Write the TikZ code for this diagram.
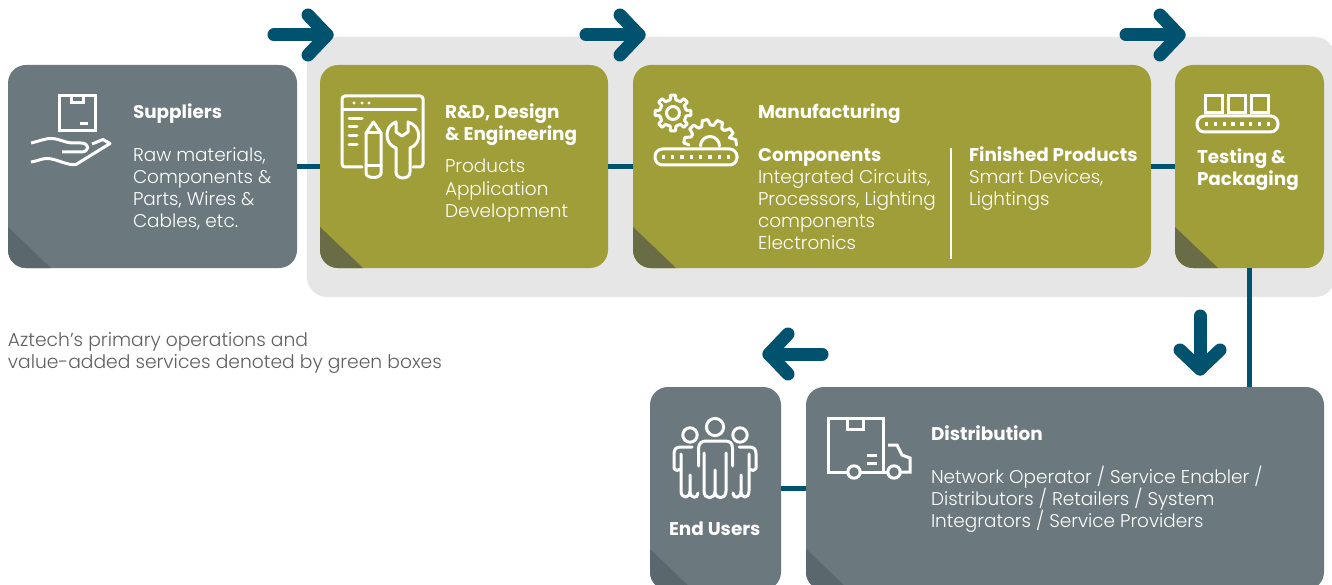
\documentclass[tikz,border=0pt]{standalone}
\usepackage{fontspec}
\setmainfont{Poppins}
\newfontfamily\plight{Poppins Light}
\newfontfamily\pbold{Poppins Bold}
\usetikzlibrary{calc}
\definecolor{slate}{HTML}{6B787E}
\definecolor{slatedark}{HTML}{5A676C}
\definecolor{olive}{HTML}{A09E38}
\definecolor{olivedark}{HTML}{696C45}
\definecolor{bgrey}{HTML}{E6E6E6}
\definecolor{teal2}{HTML}{00526E}
\definecolor{notegrey}{HTML}{5F5F5F}
\tikzset{
  x=1pt,y=-1pt,
  panelbox/.style={rectangle,rounded corners=18pt,inner sep=0pt,outer sep=0pt,draw=none},
  slatebox/.style={panelbox,fill=slate,foldfill=slatedark},
  olivebox/.style={panelbox,fill=olive,foldfill=olivedark},
  foldfill/.style={path picture={\fill[#1,sharp corners]
     ([yshift=41pt]path picture bounding box.south west) --
     ([xshift=43pt]path picture bounding box.south west) --
     (path picture bounding box.south west) -- cycle;}},
  link/.style={draw=teal2,line width=5pt},
  flowarrow/.style={draw=teal2,line width=13pt,line cap=round,line join=round},
  icon/.style={draw=white,line width=3pt,line join=round,line cap=round},
  head/.style={anchor=base west,inner sep=0pt,outer sep=0pt,text=white,font=\pbold\fontsize{18.4}{22}\selectfont,align=left,yshift=-1pt},
  body/.style={anchor=base west,inner sep=0pt,outer sep=0pt,text=white,font=\plight\fontsize{18.45}{22}\selectfont,align=left,yshift=-1pt},
  note/.style={body,text=notegrey,font=\plight\fontsize{18.7}{22}\selectfont},
}
\newcommand{\conveyor}[4]{%
  \draw[icon,rounded corners=7.5pt] (#1,#2) rectangle (#3,#2+16);
  \foreach \k in {0,...,7}{\fill[white] ({#1+#4+\k*(#3-#1-2*#4)/7-1.6},#2+6.4) rectangle +(3.2,3.2);}
}
\begin{document}
\begin{tikzpicture}
\useasboundingbox[clip] (0,0) rectangle (1332,585);
\fill[white] (0,0) rectangle (1332,585);
% grey band
\node[rectangle,rounded corners=20pt,fill=bgrey,inner sep=0pt,minimum width=1028pt,minimum height=260pt] (band) at (821,167) {};
% boxes
\node[slatebox,minimum width=289pt,minimum height=203pt] (sup) at (152.5,166.5) {};
\node[olivebox,minimum width=288pt,minimum height=203pt] (rd) at (464,166.5) {};
\node[olivebox,minimum width=518pt,minimum height=203pt] (mfg) at (892,166.5) {};
\node[olivebox,minimum width=149pt,minimum height=203pt] (test) at (1249.5,166.5) {};
\node[slatebox,minimum width=131pt,minimum height=203pt] (users) at (715.5,488.5) {};
\node[slatebox,minimum width=518pt,minimum height=203pt] (dist) at (1065,488.5) {};
% connectors
\draw[link] (sup.east) -- (rd.west);
\draw[link] (rd.east) -- (mfg.west);
\draw[link] (mfg.east) -- (test.west);
\draw[link] (test.south) -- (test.south |- dist.north);
\draw[link] (dist.west) -- (users.east);
% flow arrows
\foreach \n/\xa in {a/274,b/586,c/1126}{
  \coordinate (\n s) at (\xa,35);
  \coordinate (\n t) at (\xa+53,35);
  \draw[flowarrow] (\n s) -- (\n t);
  \draw[flowarrow] ($(\n t)+(-19,-20)$) -- (\n t) -- ($(\n t)+(-19,20)$);
}
\coordinate (ds) at (1200,316); \coordinate (dt) at (1200,369);
\draw[flowarrow] (ds) -- (dt);
\draw[flowarrow] ($(dt)+(-20,-19)$) -- (dt) -- ($(dt)+(20,-19)$);
\coordinate (ls) at (822,354); \coordinate (lt) at (769,354);
\draw[flowarrow] (ls) -- (lt);
\draw[flowarrow] ($(lt)+(19,-20)$) -- (lt) -- ($(lt)+(19,20)$);
% divider
\draw[white,line width=2.6pt] (951,148) -- (951,259);
% texts
\node[head] (t1) at (133,118) {Suppliers};
\node[body] (t2) at (133,161) {Raw materials,};
\node[body] (t3) at (133,183) {Components \&};
\node[body] (t4) at (133,205) {Parts, Wires \&};
\node[body] (t5) at (133,227) {Cables, etc.};
\node[head] (t6) at (445,118) {R\&D, Design};
\node[head] (t7) at (445,140) {\& Engineering};
\node[body] (t8) at (445,172) {Products};
\node[body] (t9) at (445,195) {Application};
\node[body] (t10) at (445,217) {Development};
\node[head] (t11) at (758,118) {Manufacturing};
\node[head] (t12) at (758,161) {Components};
\node[body] (t13) at (758,183) {Integrated Circuits,};
\node[body] (t14) at (758,205) {Processors, Lighting};
\node[body] (t15) at (758,227) {components};
\node[body] (t16) at (758,249) {Electronics};
\node[head] (t17) at (969,161) {Finished Products};
\node[body] (t18) at (969,183) {Smart Devices,};
\node[body] (t19) at (969,205) {Lightings};
\node[head] (t20) at (1197,163) {Testing \&};
\node[head] (t21) at (1197,185) {Packaging};
\node[note] (t22) at (8,345) {Aztech’s primary operations and};
\node[note] (t23) at (8,367) {value-added services denoted by green boxes};
\node[head] (t24) at (669,534) {End Users};
\node[head] (t25) at (931,439) {Distribution};
\node[body] (t26) at (931,482) {Network Operator / Service Enabler /};
\node[body] (t27) at (931,504) {Distributors / Retailers / System};
\node[body] (t28) at (931,526) {Integrators / Service Providers};
% icon: hand + parcel
\draw[icon,line cap=butt,line join=miter] (59,96) rectangle (95,131);
\draw[icon,line cap=butt,line join=miter] (71,96) -- (71,103) -- (83,103) -- (83,96);
\draw[icon,line cap=butt] (80,123.5) -- (88,123.5);
\draw[icon,line cap=butt] (31,143) .. controls (40,141) and (46,138) .. (52,138.5) .. controls (60,139) and (66,143) .. (72,143) -- (81,143) .. controls (90,143) and (90,152) .. (81,152) -- (62,152);
\draw[icon,line cap=butt] (31,162) .. controls (38,161) and (43,158) .. (48,158.5) .. controls (57,159) and (68,166) .. (76,164.5) -- (110,143.5) -- (103,139.5) -- (92,144);
% icon: window, pencil, wrench
\draw[icon,rounded corners=3pt] (362,167) -- (342,167) -- (342,96) -- (423,96) -- (423,167) -- (413,167);
\draw[icon] (343,110) -- (416,110);
\foreach \px in {354,362,369}{\fill[white] (\px,103) circle (1.6);}
\draw[icon] (349,118.5) -- (362,118.5) (349,127) -- (357,127) (349,136) -- (357,136) (349,145) -- (357,145);
\draw[icon] (366,133) -- (373.5,122) -- (381,133) -- (381,173) .. controls (381,179) and (366,179) .. (366,173) -- cycle;
\draw[icon] (366,133) -- (381,133) (366,166) -- (381,166);
\draw[icon] (396,122) -- (396,132) -- (402,136) -- (408,132) -- (408,122) .. controls (422,126) and (422,144) .. (410,148) -- (410,172) .. controls (410,180) and (396,180) .. (396,172) -- (396,148) .. controls (384,144) and (384,126) .. (396,122) -- cycle;
% icon: gears + conveyor
\draw[icon] (673,113) circle (6.5);
\draw[icon] \foreach \a [count=\i from 0] in {0,45,...,315}{
  \ifnum\i=0 ($(673,113)+(\a-12:13.5)$) \else -- ($(673,113)+(\a-12:13.5)$) \fi
  -- ($(673,113)+(\a-8:18)$) -- ($(673,113)+(\a+8:18)$) -- ($(673,113)+(\a+12:13.5)$)} -- cycle;
\draw[icon] ($(710,146)+(183:21)$) -- ($(710,146)+(187:26.5)$) -- ($(710,146)+(199:26.5)$) -- ($(710,146)+(205:21)$)
  -- ($(710,146)+(214:21)$) -- ($(710,146)+(220:26.5)$) -- ($(710,146)+(232:26.5)$) -- ($(710,146)+(238:21)$)
  -- ($(710,146)+(247:21)$) -- ($(710,146)+(253:26.5)$) -- ($(710,146)+(265:26.5)$) -- ($(710,146)+(271:21)$)
  -- ($(710,146)+(280:21)$) -- ($(710,146)+(286:26.5)$) -- ($(710,146)+(298:26.5)$) -- ($(710,146)+(304:21)$)
  -- ($(710,146)+(313:21)$) -- ($(710,146)+(319:26.5)$) -- ($(710,146)+(331:26.5)$) -- ($(710,146)+(337:21)$)
  -- ($(710,146)+(346:26.5)$) -- ($(710,146)+(358:26.5)$);
\draw[icon] ($(710,146)+(180:9.5)$) arc[start angle=180,end angle=360,radius=9.5];
\conveyor{655}{149}{737}{8.5}
% icon: boxes on conveyor
\foreach \bx in {1205,1228,1251}{\draw[icon,line cap=butt,line join=miter] (\bx,96) rectangle +(17,17);}
\conveyor{1197}{116}{1278}{9.5}
% icon: people
\draw[icon] (715,427) circle (8.6) (690,435) circle (7.2) (740,435) circle (7.2);
\draw[icon] (704,453) -- (704,491) .. controls (704,500) and (715,500) .. (715,491) -- (715,470) -- (715,491) .. controls (715,500) and (726,500) .. (726,491) -- (726,453);
\draw[icon] (698.5,466) -- (698.5,449) .. controls (698.5,443) and (702,441) .. (706,441) -- (725,441) .. controls (730,441) and (732.5,443) .. (732.5,449) -- (732.5,466);
\draw[icon] (692,447) -- (681,447) .. controls (676,447) and (674,449) .. (674,454) -- (674,468) .. controls (675,471) and (679,471) .. (681,469) (681,454) -- (681,491) .. controls (681,499) and (690,499) .. (690,491) -- (690,475) -- (690,491) .. controls (690,499) and (698,499) .. (698,493);
\draw[icon] (739,447) -- (749,447) .. controls (754,447) and (756,449) .. (756,454) -- (756,468) .. controls (755,471) and (751,471) .. (749,469) (749,454) -- (749,491) .. controls (749,499) and (741,499) .. (741,491) -- (741,475) -- (741,491) .. controls (741,499) and (733,499) .. (733,493);
% icon: truck
\draw[icon,line cap=butt,line join=miter] (847,472) -- (828,472) -- (828,418) -- (883,418) -- (883,472) -- (861,472);
\draw[icon,line cap=butt,line join=miter] (847,418) -- (847,429) -- (863,429) -- (863,418);
\draw[icon,line cap=butt] (867,455.5) -- (877,455.5) (867,463) -- (877,463);
\draw[icon] (854,472) circle (6.2) (894,472) circle (6.2);
\draw[icon,line cap=butt,line join=miter] (888,445) -- (897,445) -- (902,455) -- (910,458) -- (910,472) -- (901,472);
\draw[icon,line cap=butt] (883,472) -- (887,472);
\end{tikzpicture}
\end{document}
